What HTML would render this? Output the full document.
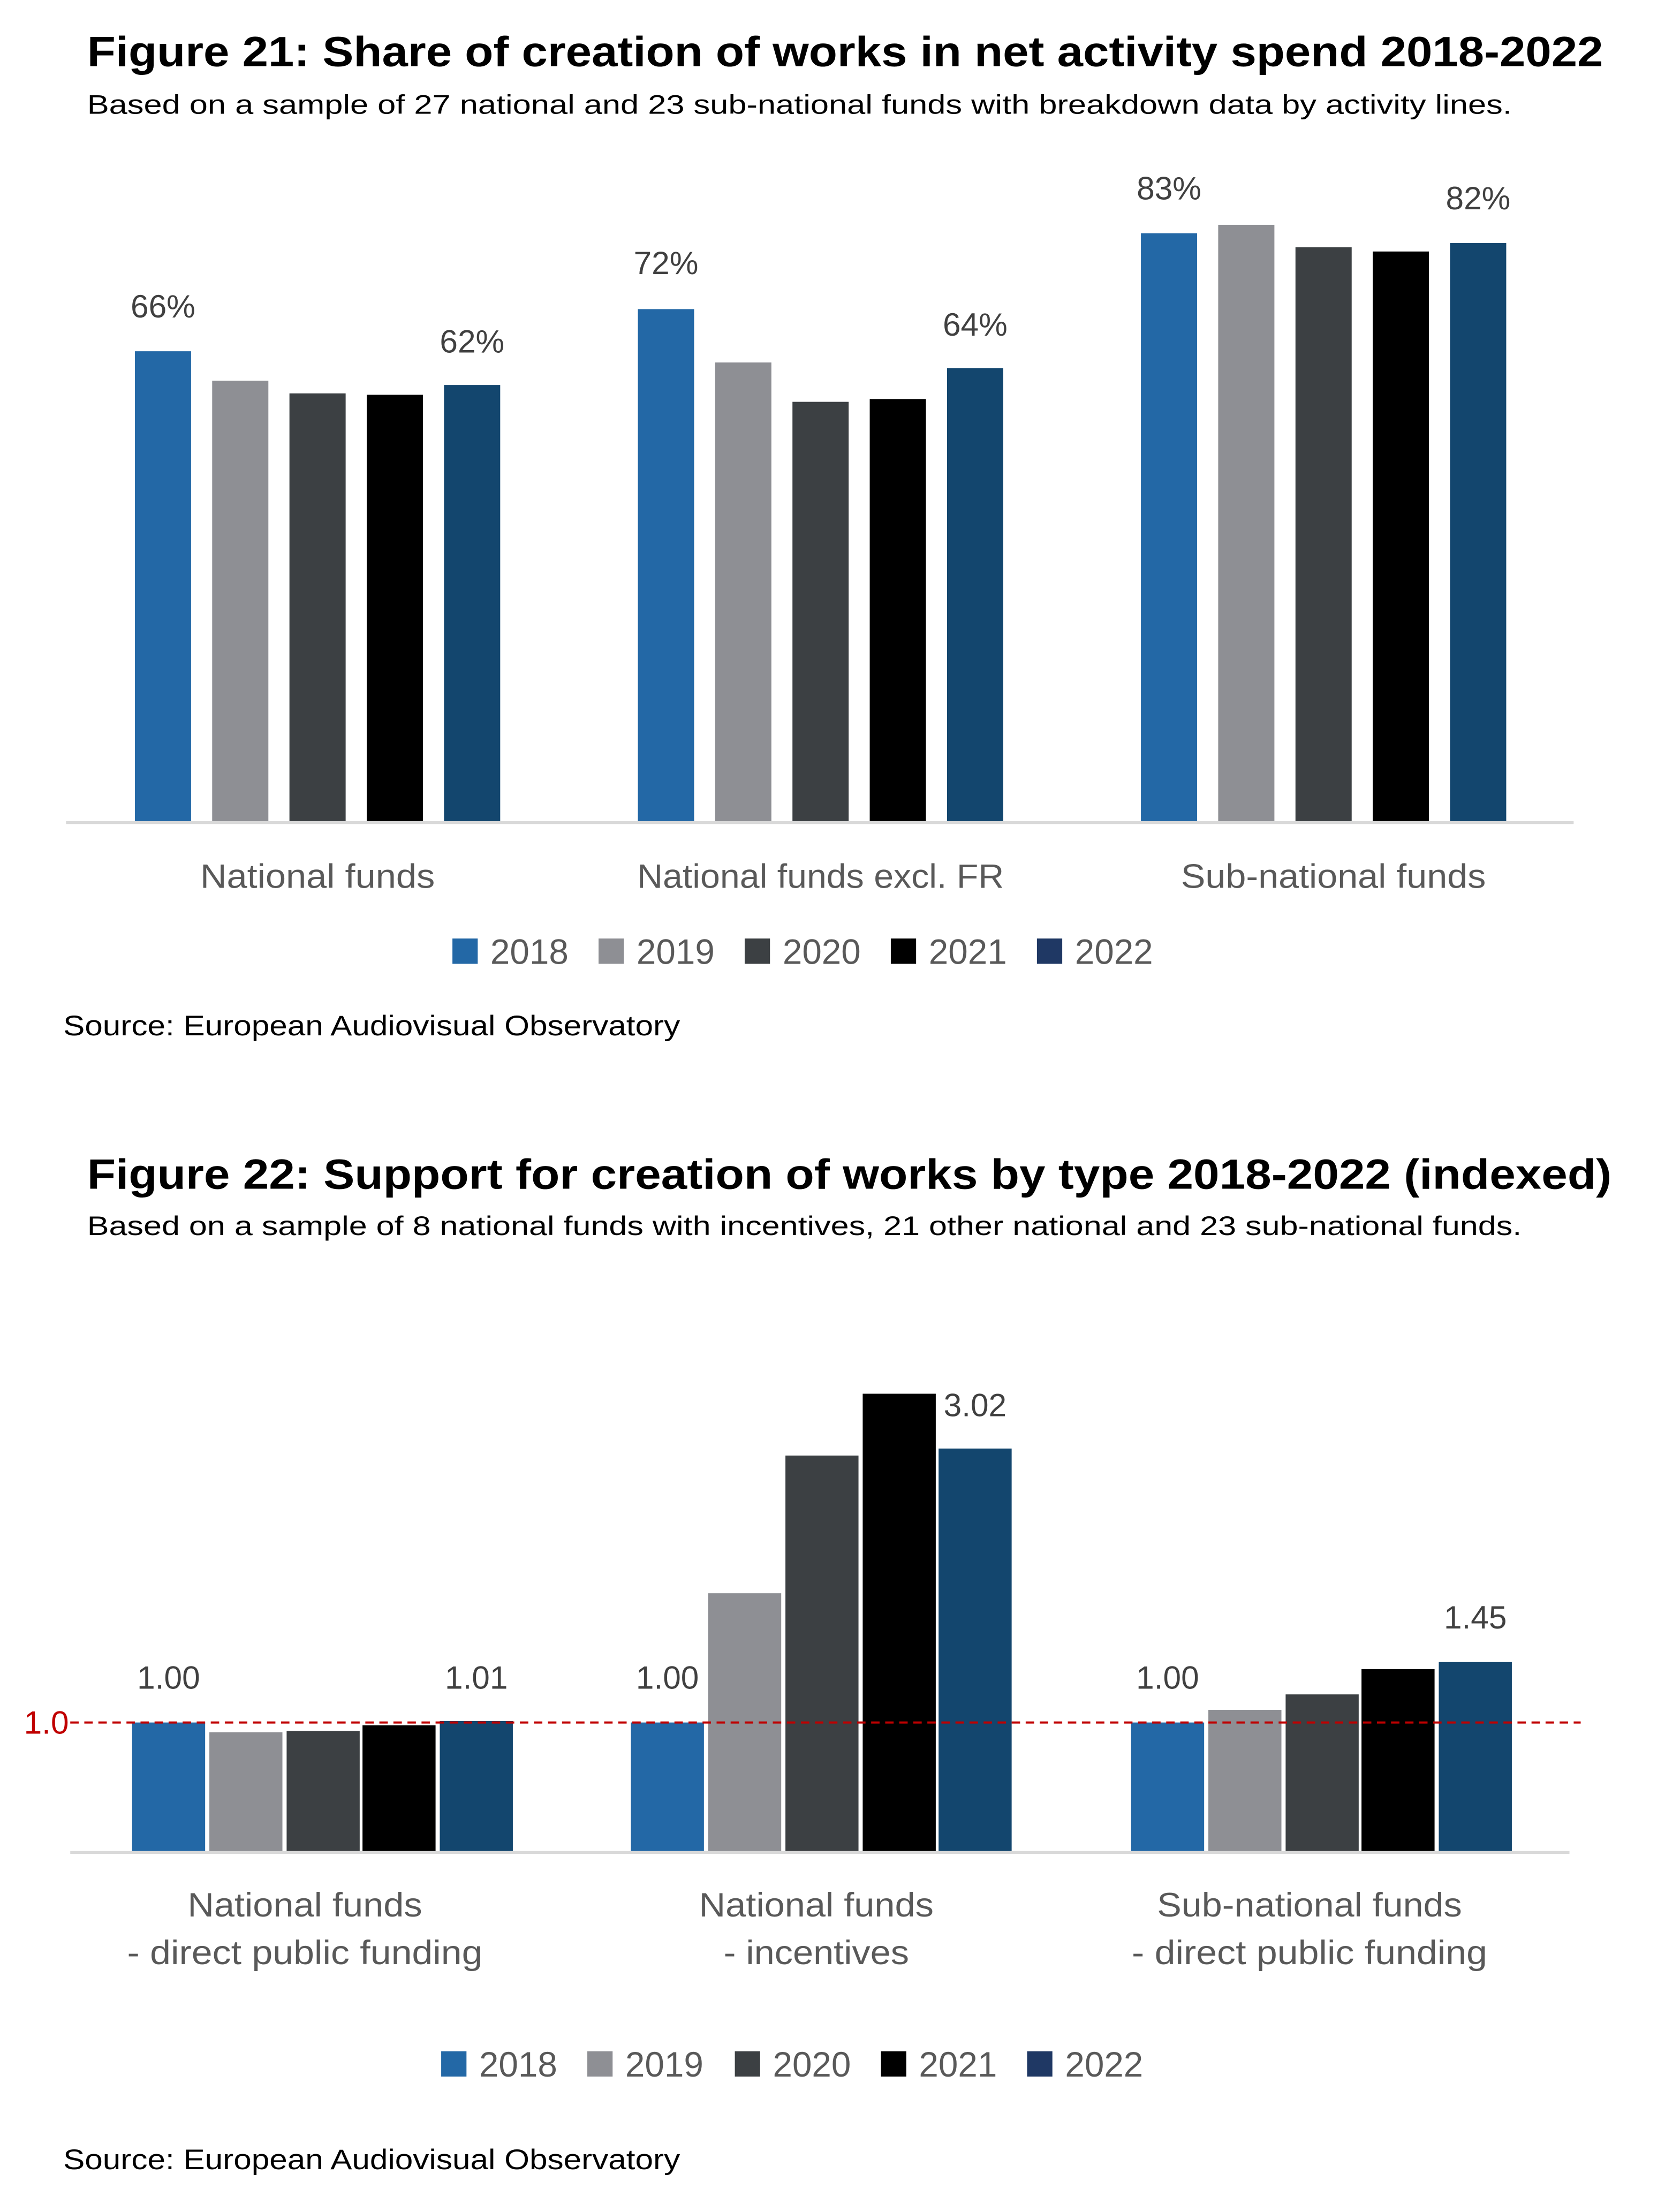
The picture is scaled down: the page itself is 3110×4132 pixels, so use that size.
<!DOCTYPE html>
<html><head><meta charset="utf-8"><style>html,body{margin:0;padding:0;background:#fff}svg{display:block}</style></head>
<body>
<svg width="3110" height="4132" viewBox="0 0 1185 1574.4" xmlns="http://www.w3.org/2000/svg" font-family="Liberation Sans, sans-serif">
<rect width="1185" height="1575" fill="#fff"/>
<!-- Figure 21 -->
<text x="62" y="47" font-size="30" font-weight="bold" textLength="1079" lengthAdjust="spacingAndGlyphs">Figure 21: Share of creation of works in net activity spend 2018-2022</text>
<text x="62" y="81" font-size="19" textLength="1014" lengthAdjust="spacingAndGlyphs">Based on a sample of 27 national  and 23 sub-national funds with breakdown data by activity lines.</text>
<g>
<rect x="96" y="250" width="40" height="335" fill="#2368a6"/>
<rect x="151" y="271" width="40" height="314" fill="#8e8f94"/>
<rect x="206" y="280" width="40" height="305" fill="#3c4043"/>
<rect x="261" y="281" width="40" height="304" fill="#000"/>
<rect x="316" y="274" width="40" height="311" fill="#13466e"/>
<rect x="454" y="220" width="40" height="365" fill="#2368a6"/>
<rect x="509" y="258" width="40" height="327" fill="#8e8f94"/>
<rect x="564" y="286" width="40" height="299" fill="#3c4043"/>
<rect x="619" y="284" width="40" height="301" fill="#000"/>
<rect x="674" y="262" width="40" height="323" fill="#13466e"/>
<rect x="812" y="166" width="40" height="419" fill="#2368a6"/>
<rect x="867" y="160" width="40" height="425" fill="#8e8f94"/>
<rect x="922" y="176" width="40" height="409" fill="#3c4043"/>
<rect x="977" y="179" width="40" height="406" fill="#000"/>
<rect x="1032" y="173" width="40" height="412" fill="#13466e"/>
</g>
<line x1="47" y1="585.5" x2="1120" y2="585.5" stroke="#d9d9d9" stroke-width="2"/>
<g font-size="23" fill="#404040" text-anchor="middle">
<text x="116" y="226">66%</text><text x="336" y="251">62%</text>
<text x="474" y="195">72%</text><text x="694" y="239">64%</text>
<text x="832" y="142">83%</text><text x="1052" y="149">82%</text>
</g>
<g font-size="24" fill="#595959" text-anchor="middle">
<text x="226" y="632" textLength="167" lengthAdjust="spacingAndGlyphs">National funds</text>
<text x="584" y="632" textLength="261" lengthAdjust="spacingAndGlyphs">National funds excl. FR</text>
<text x="949" y="632" textLength="217" lengthAdjust="spacingAndGlyphs">Sub-national funds</text>
</g>
<g font-size="25" fill="#595959">
<rect x="322" y="668" width="18" height="18" fill="#2368a6"/><text x="349" y="686">2018</text>
<rect x="426" y="668" width="18" height="18" fill="#8e8f94"/><text x="453" y="686">2019</text>
<rect x="530" y="668" width="18" height="18" fill="#3c4043"/><text x="557" y="686">2020</text>
<rect x="634" y="668" width="18" height="18" fill="#000"/><text x="661" y="686">2021</text>
<rect x="738" y="668" width="18" height="18" fill="#1f3864"/><text x="765" y="686">2022</text>
</g>
<text x="45" y="737" font-size="20" textLength="439" lengthAdjust="spacingAndGlyphs">Source: European Audiovisual Observatory</text>

<!-- Figure 22 -->
<text x="62" y="846" font-size="30" font-weight="bold" textLength="1085" lengthAdjust="spacingAndGlyphs">Figure 22: Support for creation of works by type 2018-2022 (indexed)</text>
<text x="62" y="879" font-size="19" textLength="1021" lengthAdjust="spacingAndGlyphs">Based on a sample of 8 national funds with incentives, 21 other national and 23 sub-national funds.</text>
<g>
<rect x="94" y="1226" width="52" height="92" fill="#2368a6"/>
<rect x="149" y="1233" width="52" height="85" fill="#8e8f94"/>
<rect x="204" y="1232" width="52" height="86" fill="#3c4043"/>
<rect x="258" y="1228" width="52" height="90" fill="#000"/>
<rect x="313" y="1225" width="52" height="93" fill="#13466e"/>
<rect x="449" y="1226" width="52" height="92" fill="#2368a6"/>
<rect x="504" y="1134" width="52" height="184" fill="#8e8f94"/>
<rect x="559" y="1036" width="52" height="282" fill="#3c4043"/>
<rect x="614" y="992" width="52" height="326" fill="#000"/>
<rect x="668" y="1031" width="52" height="287" fill="#13466e"/>
<rect x="805" y="1226" width="52" height="92" fill="#2368a6"/>
<rect x="860" y="1217" width="52" height="101" fill="#8e8f94"/>
<rect x="915" y="1206" width="52" height="112" fill="#3c4043"/>
<rect x="969" y="1188" width="52" height="130" fill="#000"/>
<rect x="1024" y="1183" width="52" height="135" fill="#13466e"/>
</g>
<line x1="50" y1="1318.5" x2="1117" y2="1318.5" stroke="#d9d9d9" stroke-width="2"/>
<line x1="50" y1="1226" x2="1125" y2="1226" stroke="#c00000" stroke-width="1.5" stroke-dasharray="6,4"/>
<text x="17" y="1234" font-size="23" fill="#c00000">1.0</text>
<g font-size="23" fill="#404040" text-anchor="middle">
<text x="120" y="1202">1.00</text><text x="339" y="1202">1.01</text>
<text x="475" y="1202">1.00</text><text x="694" y="1008">3.02</text>
<text x="831" y="1202">1.00</text><text x="1050" y="1159">1.45</text>
</g>
<g font-size="24" fill="#595959" text-anchor="middle">
<text x="217" y="1364" textLength="167" lengthAdjust="spacingAndGlyphs">National funds</text><text x="217" y="1398" textLength="253" lengthAdjust="spacingAndGlyphs">- direct public funding</text>
<text x="581" y="1364" textLength="167" lengthAdjust="spacingAndGlyphs">National funds</text><text x="581" y="1398" textLength="132" lengthAdjust="spacingAndGlyphs">- incentives</text>
<text x="932" y="1364" textLength="217" lengthAdjust="spacingAndGlyphs">Sub-national funds</text><text x="932" y="1398" textLength="253" lengthAdjust="spacingAndGlyphs">- direct public funding</text>
</g>
<g font-size="25" fill="#595959">
<rect x="314" y="1460" width="18" height="18" fill="#2368a6"/><text x="341" y="1478">2018</text>
<rect x="418" y="1460" width="18" height="18" fill="#8e8f94"/><text x="445" y="1478">2019</text>
<rect x="523" y="1460" width="18" height="18" fill="#3c4043"/><text x="550" y="1478">2020</text>
<rect x="627" y="1460" width="18" height="18" fill="#000"/><text x="654" y="1478">2021</text>
<rect x="731" y="1460" width="18" height="18" fill="#1f3864"/><text x="758" y="1478">2022</text>
</g>
<text x="45" y="1544" font-size="20" textLength="439" lengthAdjust="spacingAndGlyphs">Source: European Audiovisual Observatory</text>
</svg>
</body></html>
